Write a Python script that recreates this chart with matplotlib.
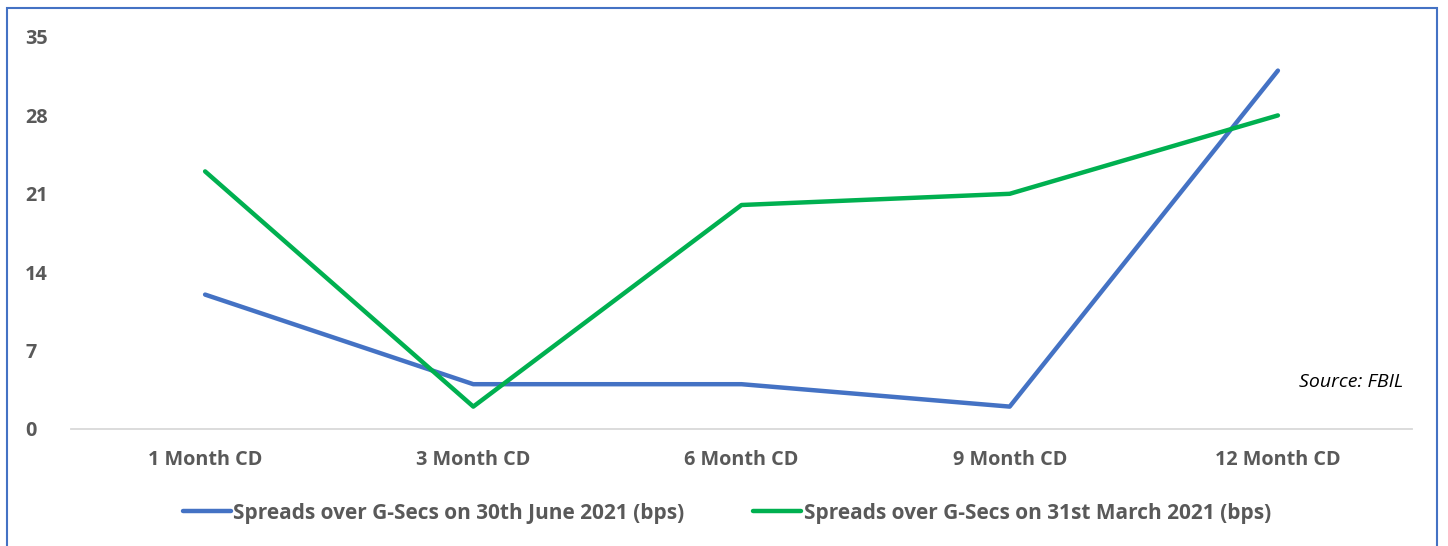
import matplotlib
matplotlib.use("Agg")
import matplotlib.pyplot as plt
from matplotlib.patches import Rectangle

categories = ["1 Month CD", "3 Month CD", "6 Month CD", "9 Month CD", "12 Month CD"]
june_2021 = [12, 4, 4, 2, 32]
march_2021 = [23, 2, 20, 21, 28]
series_labels = ["Spreads over G-Secs on 30th June 2021 (bps)",
                 "Spreads over G-Secs on 31st March 2021 (bps)"]
yticks = [0, 7, 14, 21, 28, 35]

plt.rcParams['font.family'] = ['Open Sans', 'DejaVu Sans']
W, H = 1448, 546
fig = plt.figure(figsize=(W / 100, H / 100), dpi=100)
gray = "#595959"
fs = 14.3

ax = fig.add_axes([71 / W, (H - 429) / H, (1412 - 71) / W, (429 - 37) / H])
x = list(range(len(categories)))
l1, = ax.plot(x, june_2021, color="#4472C4", lw=3.2, solid_capstyle="round", solid_joinstyle="round")
l2, = ax.plot(x, march_2021, color="#00B050", lw=3.2, solid_capstyle="round", solid_joinstyle="round")
ax.set_xlim(-0.5, len(categories) - 0.5)
ax.set_ylim(0, 35)
ax.set_yticks(yticks)
ax.set_xticks(x)
ax.set_xticklabels(categories)
for s in ["top", "right", "left"]:
    ax.spines[s].set_visible(False)
ax.spines["bottom"].set_color("#D9D9D9")
ax.spines["bottom"].set_linewidth(1.3)
ax.tick_params(axis="both", length=0, labelsize=fs, labelcolor=gray)
ax.tick_params(axis="y", pad=33)
ax.tick_params(axis="x", pad=15)
for lab in ax.get_xticklabels() + ax.get_yticklabels():
    lab.set_fontweight("bold")
for lab in ax.get_yticklabels():
    lab.set_horizontalalignment("left")

fig.text(1403 / W, 1 - 382 / H, "Source: FBIL", ha="right", va="center",
         fontsize=14, style="italic", color="black")

leg = fig.legend([l1, l2], series_labels, loc="center", bbox_to_anchor=(727 / W, 1 - 513 / H),
                 ncol=2, frameon=False, handlelength=2.3, handletextpad=0.12, columnspacing=3.3,
                 prop={"size": 15, "weight": "bold"})
for t in leg.get_texts():
    t.set_color(gray)

fig.patches.append(Rectangle((7 / W, -0.05), (1437 - 7) / W, (H - 8) / H + 0.05, transform=fig.transFigure,
                             fill=False, edgecolor="#4472C4", lw=1.5))

fig.savefig("out.png", dpi=100)
